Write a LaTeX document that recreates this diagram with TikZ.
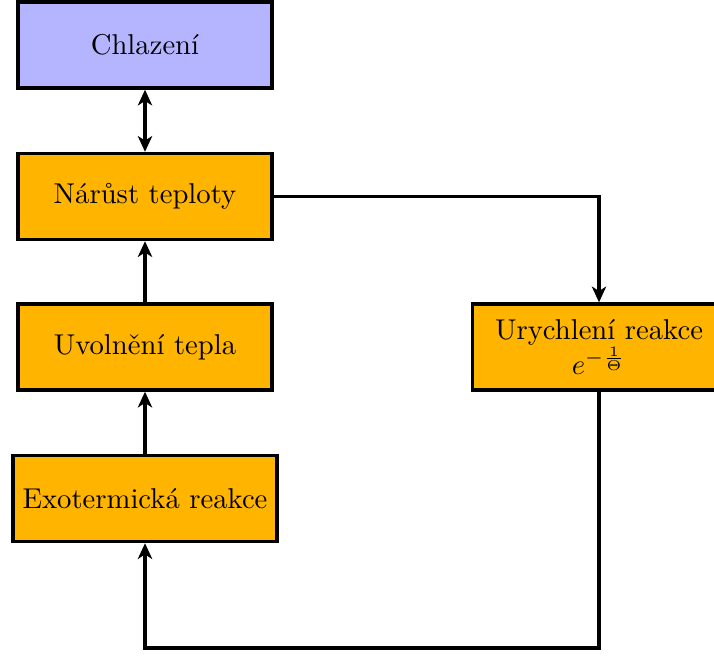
\documentclass[tikz,border=0pt]{standalone}
\usetikzlibrary{arrows.meta}
\definecolor{boxorange}{RGB}{255,180,0}
\definecolor{boxblue}{RGB}{180,180,255}
\begin{document}
\begin{tikzpicture}[x=0.349pt,y=-0.349pt,
  box/.style={draw=black,line width=1.2pt,rectangle,minimum width=88.5pt,minimum height=30pt,inner sep=3.33pt,align=center,font=\normalsize},
  tip/.style={Stealth[length=5.5pt,width=5pt,inset=1.6pt]},
  conn/.style={line width=1.2pt,-{Stealth[length=5.5pt,width=5pt,inset=1.6pt]}}]
\useasboundingbox (0,0) rectangle (714,655);
\node[box,fill=boxblue] (chl) at (145,45) {Chlazení};
\node[box,fill=boxorange] (nar) at (145,196.5) {Nárůst teploty};
\node[box,fill=boxorange] (uvo) at (145,347) {Uvolnění tepla};
\node[box,fill=boxorange] (exo) at (145,498.5) {Exotermická reakce};
\node[box,fill=boxorange] (ury) at (599,347) {Urychlení reakce\\ $e^{-\frac{1}{\Theta}}$};
\coordinate (bot) at (599,648);
\draw[line width=1.2pt,{Stealth[length=5.5pt,width=5pt,inset=1.6pt]}-{Stealth[length=5.5pt,width=5pt,inset=1.6pt]}] (chl) -- (nar);
\draw[conn] (uvo) -- (nar);
\draw[conn] (exo) -- (uvo);
\draw[conn] (nar.east) -| (ury.north);
\draw[conn] (ury.south) -- (bot) -| (exo.south);
\end{tikzpicture}
\end{document}
